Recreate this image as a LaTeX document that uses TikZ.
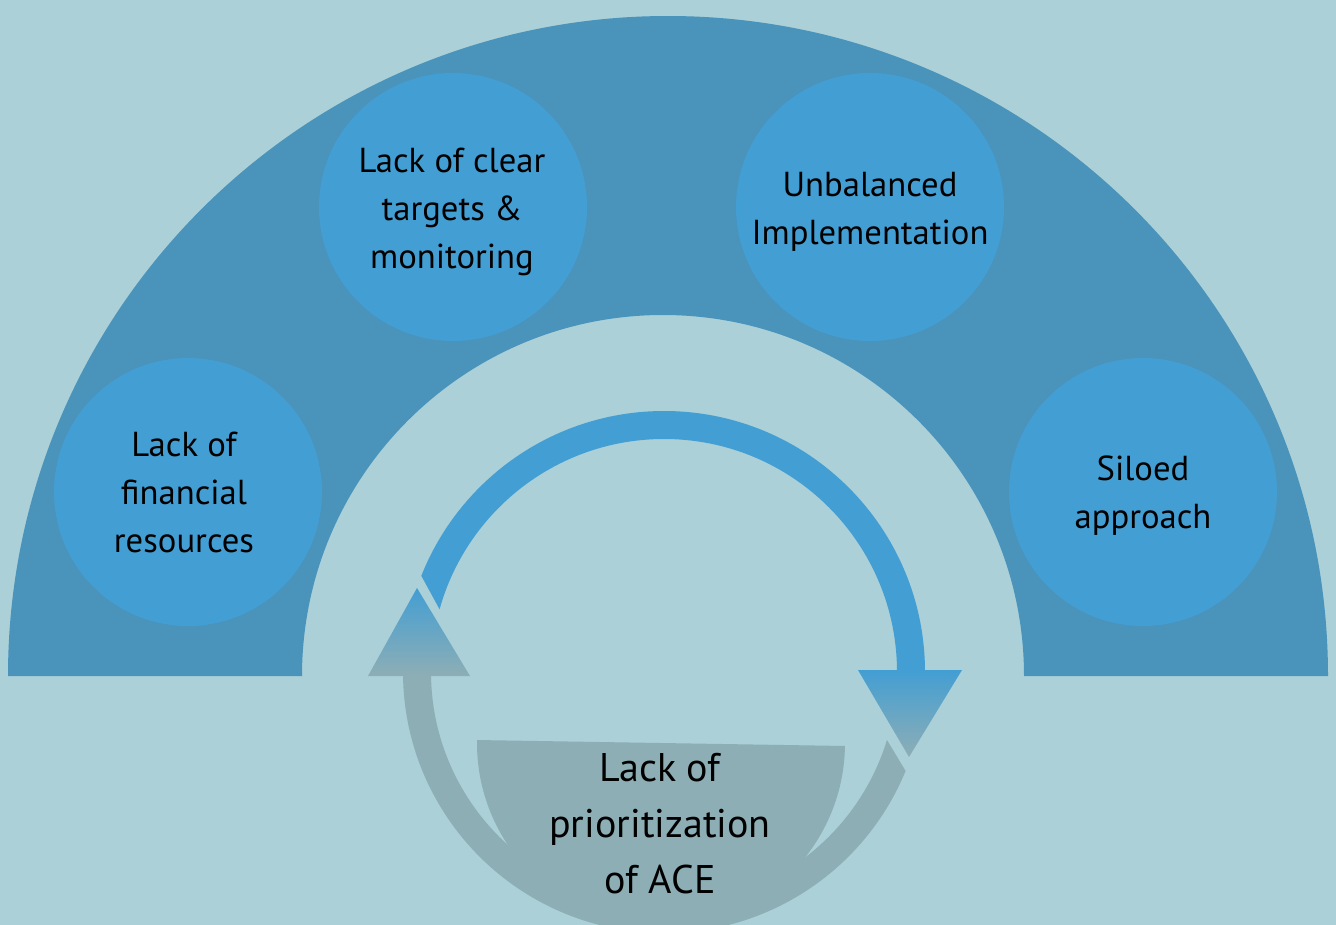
\documentclass[tikz,border=0pt]{standalone}
\usepackage{fontspec}
\setmainfont{PT Sans}
\definecolor{bg}{HTML}{ABD0D8}
\definecolor{ringblue}{HTML}{4A93BB}
\definecolor{bubblefill}{HTML}{439ED3}
\definecolor{slate}{HTML}{8DAEB5}
\begin{document}
\begin{tikzpicture}[x=0.75pt,y=-0.75pt,
  bubble/.style={circle,fill=bubblefill,minimum size=201pt,inner sep=0pt},
  bubbletext/.style={align=center,inner sep=0pt,font=\fontsize{26}{36}\selectfont},
  band/.style={line width=21pt},
  head/.style={top color=bubblefill,bottom color=slate}]
\useasboundingbox (0,0) rectangle (1336,925);
\fill[bg] (0,0) rectangle (1336,925);

% outer half ring
\fill[ringblue] (8,676) arc[start angle=180,end angle=360,radius=660]
  -- (1024,676) arc[start angle=0,end angle=-180,radius=361] -- cycle;

% barrier bubbles
\node[bubble] (fin) at (188,492) {};
\node[bubble] (tgt) at (453,207) {};
\node[bubble] (unb) at (870,207) {};
\node[bubble] (sil) at (1143,492) {};
\node[bubbletext] (fintxt) at (184,492) {Lack of\\financial\\resources};
\node[bubbletext] (tgttxt) at (452,212) {Lack of clear\\targets \&\\monitoring};
\node[bubbletext] (unbtxt) at (870,212) {Unbalanced\\Implementation};
\node[bubbletext] (siltxt) at (1143,496) {Siloed\\approach};

% central half disc with label
\fill[slate, rotate around={-0.93:(661,743)}] (477,743)
  arc[start angle=180,end angle=0,radius=184] -- cycle;
\node[font=\fontsize{30}{42}\selectfont, align=center] (prio) at (660,824)
  {Lack of\\prioritization\\of ACE};

% upper (blue) arc of the cycle
\begin{scope}
  \clip (271,300) -- (489,700) -- (1000,700) -- (1000,300) -- cycle;
  \draw[band, bubblefill] (911,672) arc[start angle=0,end angle=-175,radius=247];
\end{scope}

% lower (grey) arc of the cycle
\begin{scope}
  \clip (803,600) -- (1043,1000) -- (0,1000) -- (0,600) -- cycle;
  \draw[band, slate] (417,672) arc[start angle=180,end angle=0,radius=247];
\end{scope}

% arrow heads
\shade[head] (368,676) -- (470,676) -- (417,588) -- cycle;
\shade[head] (858,670) -- (962,670) -- (909,757) -- cycle;
\end{tikzpicture}
\end{document}
